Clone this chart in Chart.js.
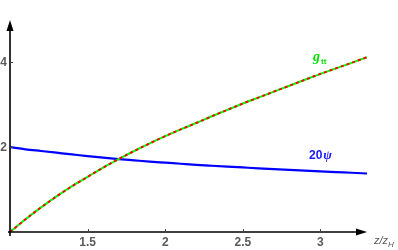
<!DOCTYPE html>
<html>
<head>
<meta charset="utf-8">
<script src="https://cdn.jsdelivr.net/npm/chart.js@4"></script>
<style>
  html, body { margin: 0; padding: 0; background: #fff; }
  #wrap { width: 398px; height: 250px; }
</style>
</head>
<body>
<div id="wrap"><canvas id="c" width="398" height="250"></canvas></div>
<script>
// z / z_H
const zVals = [1.0, 1.1, 1.2, 1.3, 1.4, 1.5, 1.6, 1.7, 1.8, 1.9, 2.0, 2.1, 2.2, 2.3, 2.4, 2.5, 2.6, 2.7, 2.8, 2.9, 3.0, 3.1, 3.2, 3.3]
// g_tt
const gtt = [0, 0.30, 0.58, 0.84, 1.08, 1.30, 1.52, 1.72, 1.91, 2.09, 2.26, 2.42, 2.57, 2.73, 2.88, 3.03, 3.17, 3.31, 3.45, 3.59, 3.73, 3.86, 3.99, 4.12]
// 20 psi
const psi20 = [2.00, 1.95, 1.91, 1.87, 1.83, 1.79, 1.755, 1.72, 1.69, 1.66, 1.635, 1.61, 1.585, 1.563, 1.542, 1.522, 1.502, 1.483, 1.465, 1.447, 1.43, 1.413, 1.397, 1.38]

const xTicks = ['1.5', '2', '2.5', '3']
const yTicks = ['2', '4']

const pts = ys => zVals.map((x, i) => ({ x, y: ys[i] }))

// ── axes with arrows, ticks and labels ──────────────────────────────────
const axesPlugin = {
  id: 'axes',
  afterDatasetsDraw (chart) {
    const { ctx, chartArea: a, scales } = chart
    const xs = scales.x, ys = scales.y
    const x0 = xs.getPixelForValue(1), y0 = ys.getPixelForValue(0)
    ctx.save()
    ctx.strokeStyle = '#000'
    ctx.fillStyle = '#000'
    ctx.lineWidth = 1.6
    ctx.beginPath()
    ctx.moveTo(x0, a.bottom + 4); ctx.lineTo(x0, a.top + 8)
    ctx.moveTo(x0 - 2, y0); ctx.lineTo(a.right - 8, y0)
    ctx.stroke()
    // arrow heads
    ctx.beginPath()
    ctx.moveTo(x0, a.top); ctx.lineTo(x0 - 3.5, a.top + 11); ctx.lineTo(x0 + 3.5, a.top + 11); ctx.closePath()
    ctx.fill()
    ctx.beginPath()
    ctx.moveTo(a.right, y0); ctx.lineTo(a.right - 11, y0 - 3.5); ctx.lineTo(a.right - 11, y0 + 3.5); ctx.closePath()
    ctx.fill()

    // ticks
    ctx.lineWidth = 1
    ctx.strokeStyle = '#444'
    ctx.beginPath()
    xTicks.forEach(t => {
      const px = Math.round(xs.getPixelForValue(+t)) + 0.5
      ctx.moveTo(px, y0); ctx.lineTo(px, y0 - 3)
    })
    yTicks.forEach(t => {
      const py = Math.round(ys.getPixelForValue(+t)) + 0.5
      ctx.moveTo(x0, py); ctx.lineTo(x0 + 3, py)
    })
    ctx.stroke()

    ctx.fillStyle = '#5a5a5a'
    ctx.font = 'bold 12px "Liberation Sans", Arial, sans-serif'
    ctx.textAlign = 'center'
    ctx.textBaseline = 'middle'
    xTicks.forEach(t => ctx.fillText(t, xs.getPixelForValue(+t), y0 + 11))
    ctx.textAlign = 'right'
    yTicks.forEach(t => ctx.fillText(t, x0 - 3, ys.getPixelForValue(+t)))

    // axis label z/z_H
    ctx.textAlign = 'left'
    ctx.textBaseline = 'alphabetic'
    ctx.font = 'italic 11px "Liberation Sans", Arial, sans-serif'
    ctx.fillStyle = '#555'
    ctx.fillText('z/z', a.right + 7, y0 + 12)
    const w = ctx.measureText('z/z').width
    ctx.font = 'italic 8px "Liberation Sans", Arial, sans-serif'
    ctx.fillText('H', a.right + 7 + w, y0 + 15)

    // curve labels
    ctx.fillStyle = '#00e000'
    ctx.font = 'bold italic 14px "Liberation Serif", serif'
    ctx.fillText('g', 313, 61)
    ctx.font = 'bold 8px "Liberation Sans", Arial, sans-serif'
    ctx.fillText('tt', 321, 64)

    ctx.fillStyle = '#1a1aff'
    ctx.font = 'bold 12px "Liberation Sans", Arial, sans-serif'
    ctx.fillText('20', 309, 159)
    const w2 = ctx.measureText('20').width
    ctx.font = 'bold italic 13px "Liberation Serif", serif'
    ctx.fillText('ψ', 309 + w2 + 1, 159)
    ctx.restore()
  }
}

new Chart(document.getElementById('c'), {
  type: 'line',
  data: {
    datasets: [
      { label: 'g_tt dashed', data: pts(gtt), borderColor: '#ff0000', borderWidth: 2, borderDash: [3, 3], pointRadius: 0, cubicInterpolationMode: 'monotone', fill: false, order: 0 },
      { label: 'g_tt', data: pts(gtt), borderColor: '#00ff00', borderWidth: 2, pointRadius: 0, cubicInterpolationMode: 'monotone', fill: false, order: 1 },
      { label: '20ψ', data: pts(psi20), borderColor: '#0000ff', borderWidth: 2.2, pointRadius: 0, cubicInterpolationMode: 'monotone', fill: false, order: 2 }
    ]
  },
  options: {
    responsive: false,
    animation: false,
    layout: { padding: { left: 10, right: 31, top: 20, bottom: 18 } },
    plugins: { legend: { display: false }, tooltip: { enabled: false } },
    scales: {
      x: { type: 'linear', min: 1, max: 3.3, display: false },
      y: { type: 'linear', min: 0, max: 5, display: false }
    }
  },
  plugins: [axesPlugin]
})
</script>
</body>
</html>
